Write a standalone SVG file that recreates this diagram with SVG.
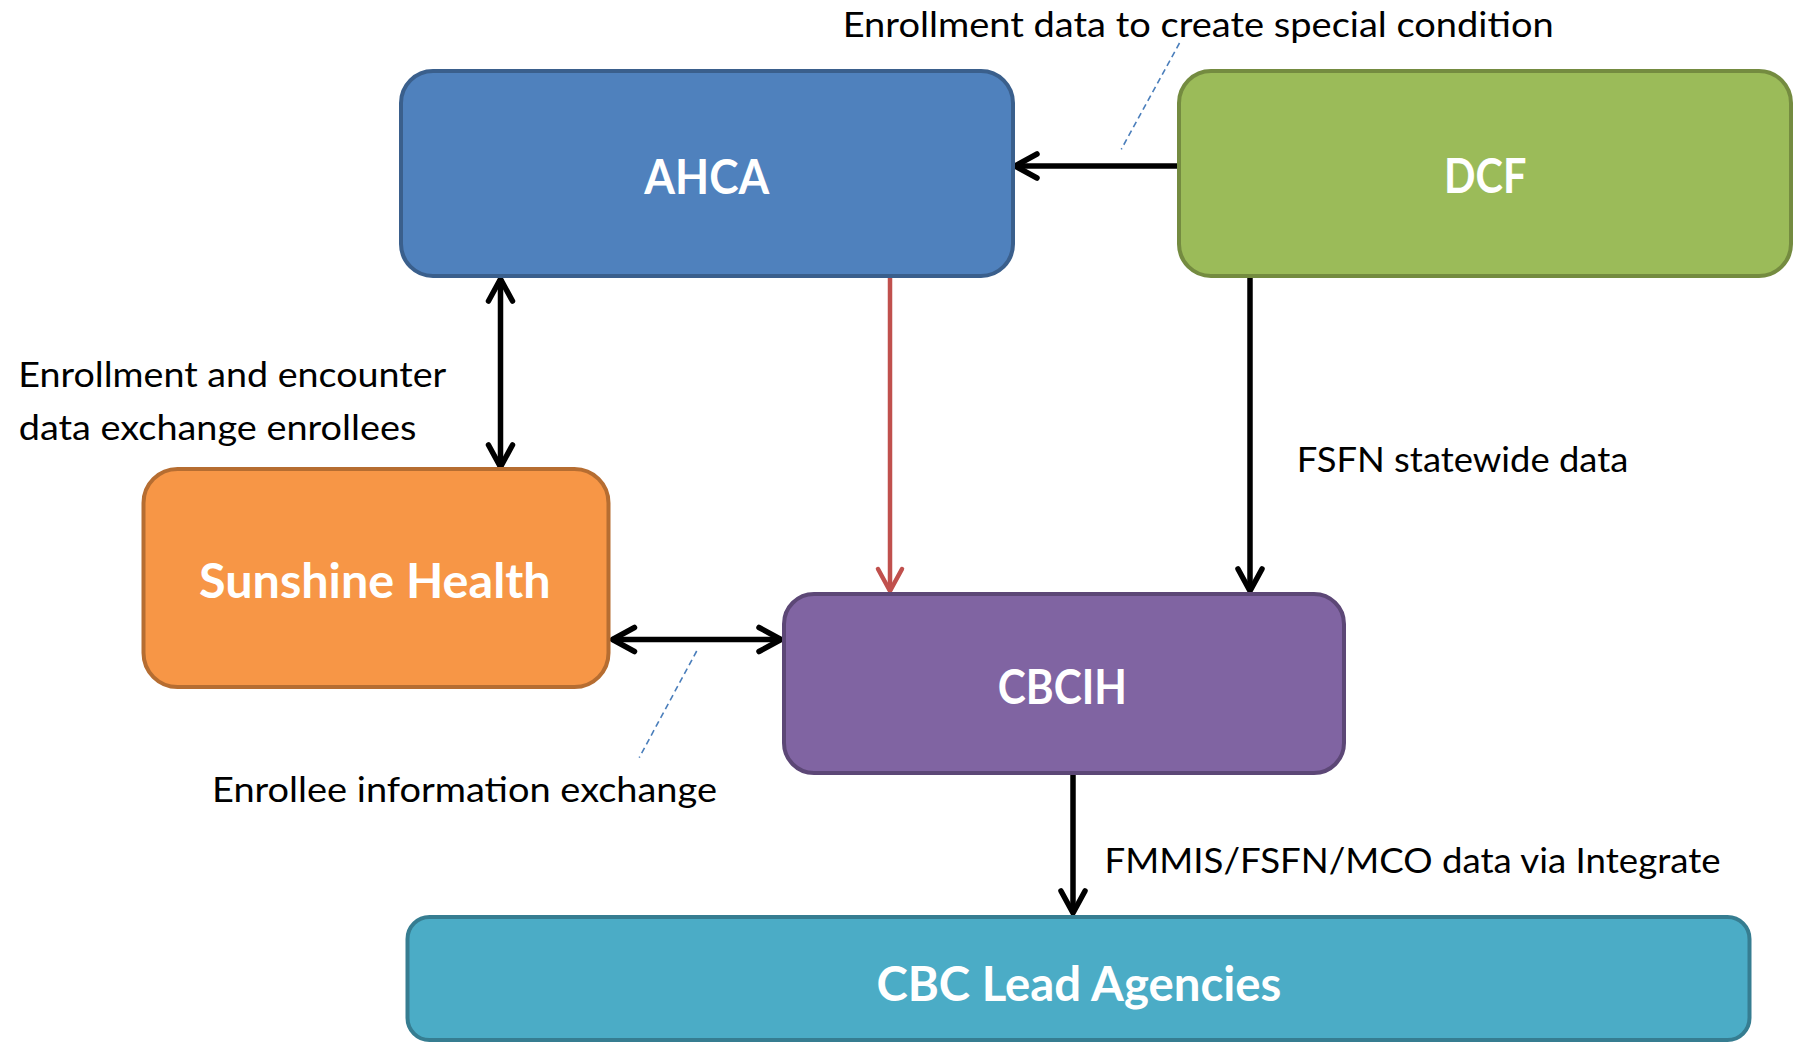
<svg xmlns="http://www.w3.org/2000/svg" width="1799" height="1043" viewBox="0 0 1799 1043">
<style>
.node{stroke-width:4}
.nt{font-family:Lato,"Open Sans","Liberation Sans",sans-serif;font-weight:bold;font-size:47px;fill:#ffffff}
.lbl{font-family:Lato,"Open Sans","Liberation Sans",sans-serif;font-size:34px;fill:#000000}
.con{fill:none;stroke:#000000;stroke-width:5.5}
.red{fill:none;stroke:#C0504D;stroke-width:4.5}
.call{fill:none;stroke:#4A7EBB;stroke-width:1.6;stroke-dasharray:6 4}
</style>
<defs>
<marker id="ab" viewBox="-30 -16 34 32" refX="0" refY="0" markerWidth="34" markerHeight="32" markerUnits="userSpaceOnUse" orient="auto-start-reverse">
<path d="M-22,-12 L0,0 L-22,12" fill="none" stroke="#000000" stroke-width="5.5" stroke-linecap="round" stroke-linejoin="round"/>
</marker>
<marker id="ar" viewBox="-30 -16 34 32" refX="0" refY="0" markerWidth="34" markerHeight="32" markerUnits="userSpaceOnUse" orient="auto-start-reverse">
<path d="M-22,-12 L0,0 L-22,12" fill="none" stroke="#C0504D" stroke-width="4.5" stroke-linecap="round" stroke-linejoin="round"/>
</marker>
</defs>
<rect width="1799" height="1043" fill="#ffffff"/>
<g id="connectors">
<line class="con" x1="1179" y1="166" x2="1015" y2="166" marker-end="url(#ab)"/>
<line class="con" x1="500.5" y1="279" x2="500.5" y2="467" marker-start="url(#ab)" marker-end="url(#ab)"/>
<line class="red" x1="890" y1="277" x2="890" y2="591" marker-end="url(#ar)"/>
<line class="con" x1="1250" y1="277" x2="1250" y2="591" marker-end="url(#ab)"/>
<line class="con" x1="612.5" y1="639.5" x2="781" y2="639.5" marker-start="url(#ab)" marker-end="url(#ab)"/>
<line class="con" x1="1073" y1="775" x2="1073" y2="913" marker-end="url(#ab)"/>
<line class="call" x1="1179.5" y1="43" x2="1121.3" y2="149.3"/>
<line class="call" x1="696.7" y1="651" x2="639.2" y2="757.7"/>
</g>
<g id="labels">
<text class="lbl" x="842.7" y="36.7" textLength="711" lengthAdjust="spacingAndGlyphs">Enrollment data to create special condition</text>
<text class="lbl" x="18.3" y="386.7" textLength="428" lengthAdjust="spacingAndGlyphs">Enrollment and encounter</text>
<text class="lbl" x="18.8" y="440" textLength="397.5" lengthAdjust="spacingAndGlyphs">data exchange enrollees</text>
<text class="lbl" x="1296.7" y="471.7" textLength="331.6" lengthAdjust="spacingAndGlyphs">FSFN statewide data</text>
<text class="lbl" x="212" y="802" textLength="505" lengthAdjust="spacingAndGlyphs">Enrollee information exchange</text>
<text class="lbl" x="1104.6" y="873" textLength="616" lengthAdjust="spacingAndGlyphs">FMMIS/FSFN/MCO data via Integrate</text>
</g>
<g id="node-ahca">
<rect class="node" x="401" y="71" width="612" height="205" rx="32" fill="#4F81BD" stroke="#3A5F8C"/>
<text class="nt" x="644.3" y="194" textLength="125" lengthAdjust="spacingAndGlyphs">AHCA</text>
</g>
<g id="node-dcf">
<rect class="node" x="1179" y="71" width="612" height="205" rx="32" fill="#9BBB59" stroke="#748B40"/>
<text class="nt" x="1444" y="193.3" textLength="82.4" lengthAdjust="spacingAndGlyphs">DCF</text>
</g>
<g id="node-sunshine">
<rect class="node" x="143.5" y="469" width="465" height="218" rx="34" fill="#F79646" stroke="#B66D31"/>
<text class="nt" x="199" y="598" textLength="351.6" lengthAdjust="spacingAndGlyphs">Sunshine Health</text>
</g>
<g id="node-cbcih">
<rect class="node" x="784" y="594" width="560" height="179" rx="30" fill="#8064A2" stroke="#5C4776"/>
<text class="nt" x="997.8" y="704" textLength="129.2" lengthAdjust="spacingAndGlyphs">CBCIH</text>
</g>
<g id="node-cbc">
<rect class="node" x="407.5" y="917" width="1342" height="123" rx="22" fill="#4BACC6" stroke="#367D91"/>
<text class="nt" x="876.4" y="1000.7" textLength="405" lengthAdjust="spacingAndGlyphs">CBC Lead Agencies</text>
</g>
</svg>
